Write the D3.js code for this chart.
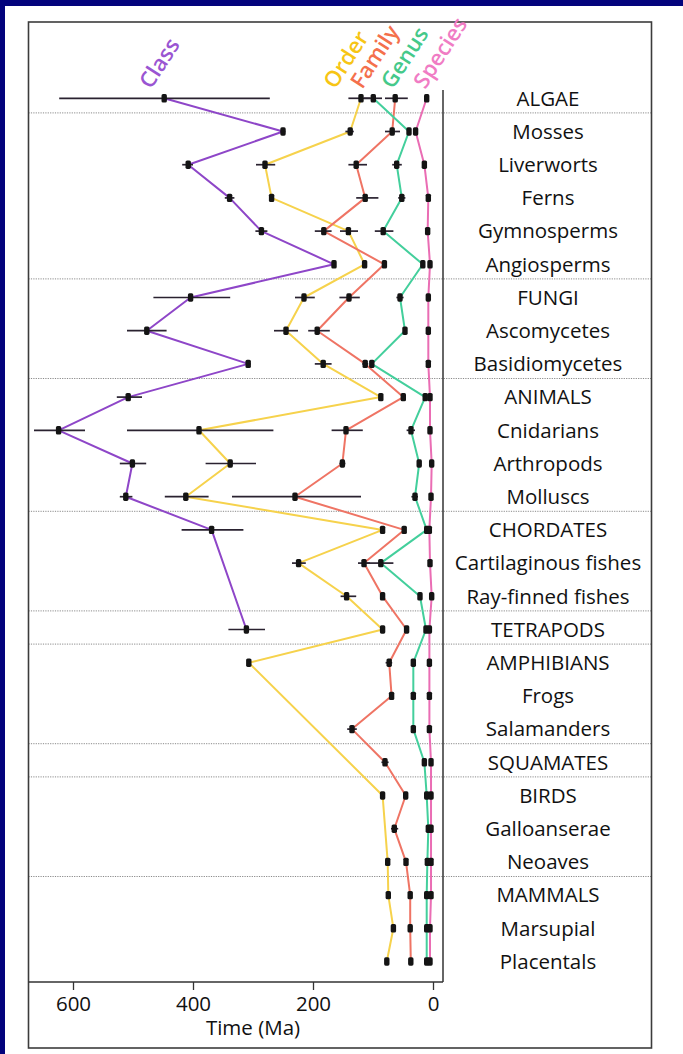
<!DOCTYPE html>
<html>
<head>
<meta charset="utf-8">
<script src="https://cdn.jsdelivr.net/npm/d3@7"></script>
<style>
  html, body { margin: 0; padding: 0; background: #03037c; }
  svg { display: block; }
  text { font-family: "Open Sans", "Noto Sans", sans-serif; }
</style>
</head>
<body>
<svg id="chart" width="683" height="1054"></svg>
<script>
// Taxa, top to bottom
const categories = [
  "ALGAE", "Mosses", "Liverworts", "Ferns", "Gymnosperms", "Angiosperms",
  "FUNGI", "Ascomycetes", "Basidiomycetes",
  "ANIMALS", "Cnidarians", "Arthropods", "Molluscs",
  "CHORDATES", "Cartilaginous fishes", "Ray-finned fishes",
  "TETRAPODS", "AMPHIBIANS", "Frogs", "Salamanders",
  "SQUAMATES", "BIRDS", "Galloanserae", "Neoaves",
  "MAMMALS", "Marsupial", "Placentals"
];

// A dotted rule is drawn above each of these rows
const groupStarts = ["Mosses", "FUNGI", "ANIMALS", "CHORDATES", "TETRAPODS",
  "AMPHIBIANS", "SQUAMATES", "BIRDS", "MAMMALS"];

const seriesNames = ["Class", "Order", "Family", "Genus", "Species"];
const lineColors  = ["#8e46c8", "#f6d24c", "#ef7464", "#43cf9c", "#ea6db4"];
const labelColors = ["#9a55d2", "#f7c514", "#f4704c", "#45c98a", "#f07cc4"];

// Mean age of each rank (Ma); null = not estimated
const classAge = [448, 250, 408, 339, 286, 165, 404, 477, 308, 508, 624, 501, 512, 369,
  null, null, 311, null, null, null, null, null, null, null, null, null, null];
const orderAge = [120, 138, 280, 269, 141, 114, 215, 245, 183, 87, 390, 338, 412, 84,
  224, 144, 84, 307, null, null, null, 84, null, 75.5, 74.5, 66, 77];
const familyAge = [63, 68, 128, 113, 182, 81, 140, 193, 113, 49.5, 145, 151, 230, 48,
  115, 84, 44, 73, 69, 135, 80, 45.5, 64.5, 45, 38, 38, 37];
const genusAge = [99.5, 40, 60.5, 52, 83, 17, 55, 46.7, 102, 13, 36.7, 23, 30, 10.5,
  87, 21.7, 11.7, 32.8, 32.8, 32.8, 14.4, 10.5, 7.8, 9.4, 10.5, 10.5, 10.5];
const speciesAge = [10.5, 29, 14.4, 7.8, 8.9, 5, 7.8, 7.8, 7.8, 5, 5, 2.2, 3.3, 6.1,
  5, 2.2, 6, 6, 6, 6, 3.3, 3.3, 3.3, 3.3, 3.3, 5, 5];

// Confidence intervals [young, old] (Ma)
const classCI = [[272, 623], [246, 254], [400, 418], [331, 347], [276, 296], [162, 168],
  [338, 466], [444, 510], [304, 312], [485, 527], [580, 665], [478, 522], [501, 522],
  [316, 419], null, null, [280, 341], null, null, null, null, null, null, null, null, null, null];
const orderCI = [[104, 141], [132, 146], [263, 295], [265, 273], [125, 155], [112, 116],
  [197, 230], [225, 265], [169, 197], [85, 89], [266, 510], [295, 379], [374, 447],
  [82, 86], [212, 235], [128, 154], [82, 86], [304, 310], null, null, null, [82, 86],
  null, [72, 79], [71, 78], [63, 69], [75, 79]];
const familyCI = [[42, 80], [55, 80], [110, 141], [91, 128], [169, 197], [79, 83],
  [122, 156], [172, 208], [108, 118], [48, 51], [117, 169], [146, 156], [120, 335],
  [46, 50], [105, 125], [82, 86], [42, 46], [68, 79], [67, 71], [127, 143], [74, 86],
  [44, 47], [58, 70], [43, 47], [36, 40], [36, 40], [35, 39]];
const genusCI = [[85, 115], [37, 43], [52, 68], [46, 58], [66, 97], [15, 19], [49, 61],
  [44, 49], [99, 105], [11, 15], [30, 44], [21, 25], [25, 36], [9, 12], [66, 110],
  [20, 23], [10, 13], [31, 35], [31, 35], [31, 35], [13, 16], [9, 12], [6, 9], [8, 11],
  [9, 12], [9, 12], [9, 12]];
const speciesCI = [[9, 12], [27, 31], [13, 16], [6, 9], [7, 10], [4, 6], [6, 9], [6, 9],
  [6, 9], [4, 6], [4, 6], [1, 3], [2, 4], [5, 7], [4, 6], [1, 3], [5, 7], [5, 7], [5, 7],
  [5, 7], [2, 4], [2, 4], [2, 4], [2, 4], [2, 4], [4, 6], [4, 6]];

const ageTicks = [600, 400, 200, 0];

const ages = [classAge, orderAge, familyAge, genusAge, speciesAge];
const cis = [classCI, orderCI, familyCI, genusCI, speciesCI];

// ---- layout ----
const svg = d3.select("#chart");
const W = 683, H = 1054;
const box = { left: 28.5, right: 651.5, top: 22, bottom: 1048 };
const plotRight = 443, axisY = 982;

svg.append("rect").attr("x", 5).attr("y", 6).attr("width", W - 5).attr("height", H - 6)
  .attr("fill", "#ffffff");

const x = d3.scaleLinear().domain([600, 0]).range([73, 433]);
const y = d3.scaleBand().domain(categories).range([81.7, 978.1]);
const yc = c => y(c) + y.bandwidth() / 2;

// dotted group separators
svg.append("g").selectAll("line").data(groupStarts).join("line")
  .attr("x1", box.left).attr("x2", box.right)
  .attr("y1", d => y(d) - 2).attr("y2", d => y(d) - 2)
  .attr("stroke", "#8a8a8a").attr("stroke-width", 1)
  .attr("stroke-dasharray", "1.2,1.2");

// frame
svg.append("rect")
  .attr("x", box.left).attr("y", box.top)
  .attr("width", box.right - box.left).attr("height", box.bottom - box.top)
  .attr("fill", "none").attr("stroke", "#3c3c3c").attr("stroke-width", 1.6);

// right edge of the plotting region
svg.append("line").attr("x1", plotRight).attr("x2", plotRight)
  .attr("y1", 90).attr("y2", axisY)
  .attr("stroke", "#333").attr("stroke-width", 1.5);

// time axis
svg.append("line").attr("x1", box.left).attr("x2", plotRight)
  .attr("y1", axisY).attr("y2", axisY)
  .attr("stroke", "#333").attr("stroke-width", 1.5);

const axis = d3.axisBottom(x).tickValues(ageTicks).tickSize(8).tickSizeOuter(0).tickPadding(6);
const ax = svg.append("g").attr("transform", `translate(0,${axisY})`).call(axis);
ax.select(".domain").remove();
ax.selectAll(".tick line").attr("stroke", "#333").attr("stroke-width", 1.3);
ax.selectAll(".tick text").attr("fill", "#111").attr("font-size", 20.5)
  .attr("font-family", "\"Open Sans\", sans-serif");

svg.append("text").attr("x", (x(600) + x(0)) / 2).attr("y", 1035)
  .attr("text-anchor", "middle").attr("font-size", 20.5).attr("fill", "#111")
  .text("Time (Ma)");

// taxon labels
svg.append("g").selectAll("text").data(categories).join("text")
  .attr("x", 548).attr("y", d => yc(d)).attr("dy", "0.36em")
  .attr("text-anchor", "middle").attr("font-size", 20.5).attr("fill", "#111")
  .text(d => d);

// series lines, interval bars and point marks
const gLines = svg.append("g");
const gBars = svg.append("g");
const gMarks = svg.append("g");

ages.forEach((vals, s) => {
  const pts = categories.map((c, i) => ({ c, v: vals[i], ci: cis[s][i] }))
    .filter(d => d.v != null);
  const line = d3.line().x(d => x(d.v)).y(d => yc(d.c));
  gLines.append("path").datum(pts).attr("d", line)
    .attr("fill", "none").attr("stroke", lineColors[s]).attr("stroke-width", 2)
    .attr("stroke-linejoin", "round");

  gBars.selectAll(null).data(pts.filter(d => d.ci)).join("line")
    .attr("x1", d => x(d.ci[1])).attr("x2", d => x(d.ci[0]))
    .attr("y1", d => yc(d.c)).attr("y2", d => yc(d.c))
    .attr("stroke", "#2a2230").attr("stroke-width", 1.7);

  gMarks.selectAll(null).data(pts).join("rect")
    .attr("x", d => x(d.v) - 2.7).attr("y", d => yc(d.c) - 4.2)
    .attr("width", 5.4).attr("height", 8.4).attr("rx", 1.6)
    .attr("fill", "#141414");
});

// rank names, rotated above the first row
const labelAt = [470, 163, 118, 67, 13];
svg.append("g").selectAll("text").data(seriesNames).join("text")
  .attr("transform", (d, i) => `translate(${x(labelAt[i])},${90}) rotate(-57)`)
  .attr("font-size", 22).attr("font-weight", 600)
  .attr("fill", (d, i) => labelColors[i])
  .text(d => d);
</script>
</body>
</html>
